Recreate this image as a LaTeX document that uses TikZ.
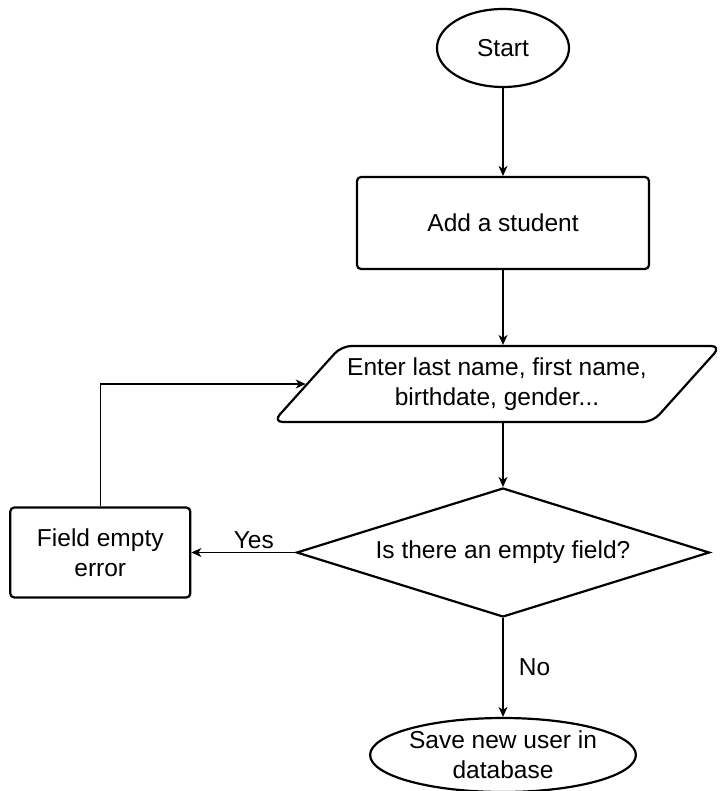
\documentclass[tikz,border=0pt]{standalone}
\usepackage{fontspec}
\setmainfont{Liberation Sans}
\usetikzlibrary{positioning,shapes.geometric,arrows.meta}
\tikzset{
>={Stealth[length=10pt,width=9pt,inset=3pt]},
  terminal/.style={
    ellipse,
    draw=black, line width=2.2pt,
    inner sep=0pt,
    align=center},
  process/.style={
    rectangle,
    rounded corners=4pt,
    draw=black, line width=2.2pt,
    align=center},
  inputbox/.style={
    trapezium,
    trapezium left angle=41.5,
    trapezium right angle=138.5,
    trapezium stretches=true,
    rounded corners=10pt,
    draw=black, line width=2.2pt,
    minimum width=450pt,
    minimum height=76pt,
    align=center},
  decision/.style={
    diamond,
    aspect=3.2,
    draw=black, line width=2.2pt,
    inner sep=0pt,
    minimum width=413pt,
    minimum height=129pt},
  line/.style={draw, line width=1.2pt, ->}
}
\begin{document}
\begin{tikzpicture}
  [x=1pt, y=-1pt,
  font=\fontsize{24.5pt}{30pt}\selectfont]
  \useasboundingbox (0,0) rectangle (723,791);

  \node[terminal, minimum width=132pt, minimum height=78pt] (start) at (503,48) {Start};
  \node[process, minimum width=292pt, minimum height=92pt] (add) at (503,223) {Add a student};
  \node[inputbox] (enter) at (497,384) {Enter last name, first name,\\birthdate, gender...};
  \node[decision] (check) at (503,552.5) {Is there an empty field?};
  \node[process, minimum width=180pt, minimum height=90pt, left=104pt of check] (error) {Field empty\\error};
  \node[terminal, inner ysep=-4pt, minimum width=250pt, minimum height=74pt] (save) at (503,755) {Save new user in\\database};

  % connectors
  \path[line] (start) -- (add);
  \path[line] (add.south) -- (add.south |- enter.north);
  \path[line] (enter.south -| check.north) -- (check.north);
  \path[line] (check.west) -- (error.east) node[pos=0.4, above] {Yes};
  \path[line] (check.south) -- (save.north) node[midway, right=12pt] {No};
  \path[line] (error.north) |- (enter.west);
\end{tikzpicture}
\end{document}
